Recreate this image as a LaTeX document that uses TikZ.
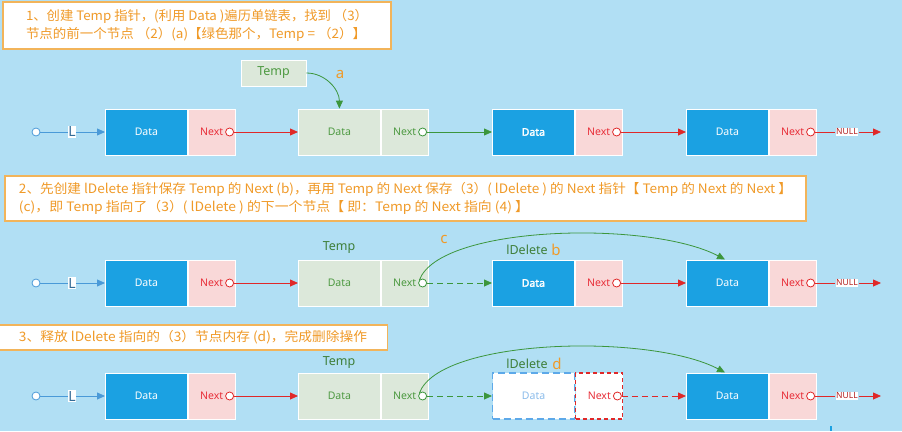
\documentclass[tikz,border=0pt]{standalone}
\usepackage{fontspec}
\setmainfont{Noto Sans CJK SC}
\newfontfamily\labf{Noto Sans}
\newfontfamily\labfb{Noto Sans}[FakeBold=2.5]
\usetikzlibrary{calc,arrows.meta}
\definecolor{bg}{HTML}{B1DFF4}
\definecolor{dblue}{HTML}{1BA1E2}
\definecolor{npink}{HTML}{F9D8D8}
\definecolor{lgreen}{HTML}{DCE8DA}
\definecolor{gtext}{HTML}{4E9A42}
\definecolor{gdark}{HTML}{3F7F3A}
\definecolor{garr}{HTML}{3C963C}
\definecolor{rarr}{HTML}{E02828}
\definecolor{ntext}{HTML}{E8303A}
\definecolor{otext}{HTML}{F09A28}
\definecolor{oborder}{HTML}{F2B45A}
\definecolor{lblue}{HTML}{4A9AD8}
\definecolor{dashblue}{HTML}{5DA9E9}
\definecolor{fadetext}{HTML}{8BBCEB}
\tikzset{
  part/.style={draw=white, line width=0.8pt, minimum height=46pt, anchor=west, inner sep=0pt, font=\labf\fontsize{10.5}{12}\selectfont},
  datab/.style={part, fill=dblue, minimum width=82pt, text=white},
  boldtext/.style={font=\labfb\fontsize{10.5}{12}\selectfont},
  nextb/.style={part, fill=npink, minimum width=47pt, text=ntext},
  gdatab/.style={part, fill=lgreen, minimum width=82pt, text=gtext},
  gnextb/.style={part, fill=lgreen, minimum width=47pt, text=gtext},
  fdatab/.style={part, draw=dashblue, line width=1.2pt, dash pattern=on 7pt off 4pt, fill=white, minimum width=82pt, text=fadetext},
  fnextb/.style={part, draw=rarr, line width=1.2pt, dash pattern=on 4pt off 3pt, fill=white, minimum width=47pt, text=ntext},
  ptr/.style={circle, fill=white, minimum size=8pt, inner sep=0pt, line width=0.8pt},
  startc/.style={circle, draw=lblue, fill=white, minimum size=8pt, inner sep=0pt, line width=0.8pt},
  lbox/.style={fill=white, inner sep=0.6pt, text=lblue!70!black, font=\labf\fontsize{14}{14}\selectfont},
  nullb/.style={fill=white, inner sep=0.6pt, text=rarr!80!black, font=\labf\fontsize{8.5}{9}\selectfont},
  tip/.style={-{Triangle[length=8pt,width=7pt]}},
  rarrow/.style={draw=rarr, line width=0.8pt, tip},
  rline/.style={draw=rarr, line width=0.8pt},
  garrow/.style={draw=garr, line width=0.8pt, tip},
  barrow/.style={draw=lblue, line width=0.8pt, tip},
  bline/.style={draw=lblue, line width=0.8pt},
  tempbox/.style={draw=white, line width=0.8pt, fill=lgreen, minimum width=65pt, minimum height=26pt, text=gtext, font=\labf\fontsize{12.5}{14}\selectfont},
  plabel/.style={text=gdark, font=\labf\fontsize{12.5}{14}\selectfont, inner sep=0pt},
  letter/.style={text=otext, font=\labf\fontsize{15}{16}\selectfont, inner sep=0pt},
  tbox/.style={draw=oborder, line width=1.3pt, fill=white, text=otext, inner sep=0pt, font=\fontsize{13}{18.5}\selectfont, align=left},
}
\newcommand\lnode[6]{%
  \node[#4] (#1d) at (#2,#3) {Data};
  \node[#5] (#1n) at (#1d.east) {Next};
  \node[ptr, draw=#6] (#1c) at ($(#1n.east)+(-6,0)$) {};}
\begin{document}
\begin{tikzpicture}[x=1pt,y=-1pt]
\fill[bg] (0,0) rectangle (902,431);
\useasboundingbox (0,0) rectangle (902,431);

% ---- text boxes
\node[tbox, minimum width=388pt, minimum height=47pt] (T1) at (197,25.5)
  {\resizebox{342pt}{\height}{1、创建 Temp 指针，(利用 Data )遍历单链表，找到 （3）}\\
   \resizebox{340pt}{\height}{节点的前一个节点 （2）(a)【绿色那个，Temp = （2）】}};
\node[tbox, minimum width=801pt, minimum height=45pt] (T2) at (405.5,198.5)
  {\resizebox{773pt}{\height}{2、先创建 lDelete 指针保存 Temp 的 Next (b)，再用 Temp 的 Next 保存（3）( lDelete ) 的 Next 指针【 Temp 的 Next 的 Next 】}\\
   \resizebox{510pt}{\height}{(c)，即 Temp 指向了（3）( lDelete ) 的下一个节点【 即：Temp 的 Next 指向 (4) 】}};
\node[tbox, minimum width=389pt, minimum height=25pt] (T3) at (193,337.5)
  {\resizebox{348pt}{\height}{3、释放 lDelete 指向的（3）节点内存 (d)，完成删除操作}};

% ---- row 1
\node[startc] (A0) at (36,132) {};
\node[lbox] (AL) at (72,132) {L};
\lnode{A1}{105}{132}{datab}{nextb}{rarr}
\lnode{A2}{298}{132}{gdatab}{gnextb}{garr}
\lnode{A3}{492}{132}{datab,boldtext}{nextb}{rarr}
\lnode{A4}{686}{132}{datab}{nextb}{rarr}
\node[nullb] (AN) at (847,132) {NULL};
\coordinate (AE) at (881,132);
\draw[bline] (A0) -- (AL);
\draw[barrow] (AL) -- (A1d.west);
\draw[rarrow] (A1c) -- (A2d.west);
\draw[garrow] (A2c) -- (A3d.west);
\draw[rarrow] (A3c) -- (A4d.west);
\draw[rline] (A4c) -- (AN);
\draw[rarrow] (AN) -- (AE);
\node[tempbox] (AT) at (273.5,73) {Temp};
\draw[garrow] (AT.east) to[out=0,in=90] (A2d.north);
\node[letter] (La) at (340,74) {a};

% ---- row 2
\node[startc] (B0) at (36,283) {};
\node[lbox] (BL) at (72,283) {L};
\lnode{B1}{105}{283}{datab}{nextb}{rarr}
\lnode{B2}{298}{283}{gdatab}{gnextb}{garr}
\lnode{B3}{492}{283}{datab,boldtext}{nextb}{rarr}
\lnode{B4}{686}{283}{datab}{nextb}{rarr}
\node[nullb] (BN) at (847,283) {NULL};
\coordinate (BE) at (881,283);
\draw[bline] (B0) -- (BL);
\draw[barrow] (BL) -- (B1d.west);
\draw[rarrow] (B1c) -- (B2d.west);
\draw[garrow, dash pattern=on 6pt off 4pt] (B2c) -- (B3d.west);
\draw[rarrow] (B3c) -- (B4d.west);
\draw[rline] (B4c) -- (BN);
\draw[rarrow] (BN) -- (BE);
\node[plabel] (BT) at (339,248) {Temp};
\node[plabel] (BD) at (527,250) {lDelete};
\node[letter] (Lb) at (556,250) {b};
\coordinate (B4top) at (725,259.5);
\draw[garrow] (B2c.north west) .. controls (440,225) and (650,220) .. (B4top);
\node[letter] (Lc) at (444,239) {c};

% ---- row 3
\node[startc] (C0) at (36,396) {};
\node[lbox] (CL) at (72,396) {L};
\lnode{C1}{105}{396}{datab}{nextb}{rarr}
\lnode{C2}{298}{396}{gdatab}{gnextb}{garr}
\lnode{C3}{492}{396}{fdatab}{fnextb}{rarr}
\lnode{C4}{686}{396}{datab}{nextb}{rarr}
\node[nullb] (CN) at (847,396) {NULL};
\coordinate (CE) at (881,396);
\draw[bline] (C0) -- (CL);
\draw[barrow] (CL) -- (C1d.west);
\draw[rarrow] (C1c) -- (C2d.west);
\draw[garrow, dash pattern=on 6pt off 4pt] (C2c) -- (C3d.west);
\draw[rarrow, dash pattern=on 6pt off 4pt] (C3c) -- (C4d.west);
\draw[rline] (C4c) -- (CN);
\draw[rarrow] (CN) -- (CE);
\node[plabel] (CT) at (339,363) {Temp};
\node[plabel] (CD) at (527,364) {lDelete};
\node[letter] (Ld) at (557,364) {d};
\coordinate (C4top) at (725,372.5);
\draw[garrow] (C2c.north west) .. controls (440,338) and (650,333) .. (C4top);

\draw[dblue, line width=1.5pt] (831,426) -- (831,431);
\end{tikzpicture}
\end{document}
